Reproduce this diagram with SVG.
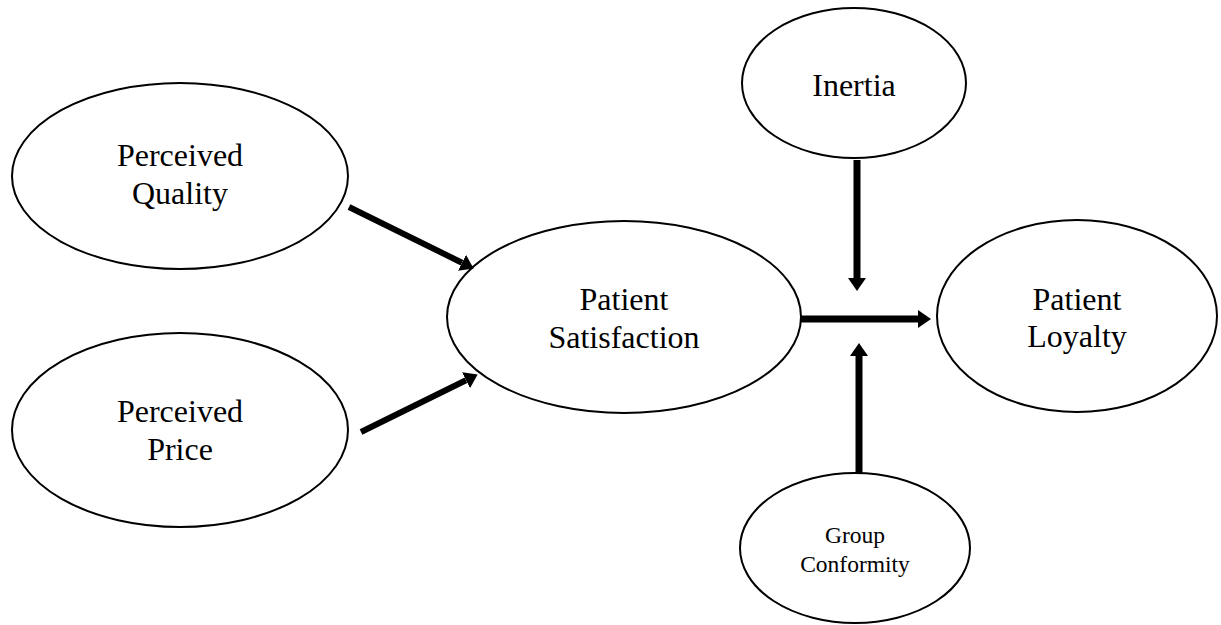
<svg xmlns="http://www.w3.org/2000/svg" width="1221" height="625" viewBox="0 0 1221 625">
<defs>
<style>
.node ellipse{fill:#fff;stroke:#000;stroke-width:2}
.node text{font-family:"Liberation Serif","Times New Roman",serif;font-size:32px;fill:#000;text-anchor:middle}
.node text.small{font-size:23.5px}
.conn line{stroke:#000;stroke-width:7;marker-end:url(#ah)}
</style>
<marker id="ah" markerUnits="userSpaceOnUse" markerWidth="14" markerHeight="20" refX="0" refY="10" orient="auto">
<path d="M0,1 L13,10 L0,19 z" fill="#000"/>
</marker>
</defs>
<rect width="1221" height="625" fill="#fff"/>
<g id="perceived-quality" class="node">
<ellipse cx="180" cy="176" rx="168" ry="93"/>
<text x="180" y="166">Perceived</text>
<text x="180" y="204">Quality</text>
</g>
<g id="perceived-price" class="node">
<ellipse cx="180" cy="430" rx="168" ry="97"/>
<text x="180" y="422">Perceived</text>
<text x="180" y="460">Price</text>
</g>
<g id="patient-satisfaction" class="node">
<ellipse cx="624" cy="317" rx="177" ry="96"/>
<text x="624" y="310">Patient</text>
<text x="624" y="348">Satisfaction</text>
</g>
<g id="inertia" class="node">
<ellipse cx="854" cy="83" rx="112" ry="75"/>
<text x="854" y="96">Inertia</text>
</g>
<g id="patient-loyalty" class="node">
<ellipse cx="1077" cy="316" rx="140" ry="96"/>
<text x="1077" y="310">Patient</text>
<text x="1077" y="347">Loyalty</text>
</g>
<g id="group-conformity" class="node">
<ellipse cx="855" cy="548" rx="115" ry="75"/>
<text class="small" x="855" y="543">Group</text>
<text class="small" x="855" y="572">Conformity</text>
</g>
<g id="connectors" class="conn">
<line x1="349" y1="207" x2="462" y2="262.7" style="stroke-width:6"/>
<line x1="361" y1="432" x2="466" y2="380.3" style="stroke-width:6"/>
<line x1="801" y1="319" x2="918" y2="319"/>
<line x1="857" y1="160" x2="857" y2="278"/>
<line x1="859" y1="473" x2="859" y2="356"/>
</g>
</svg>
